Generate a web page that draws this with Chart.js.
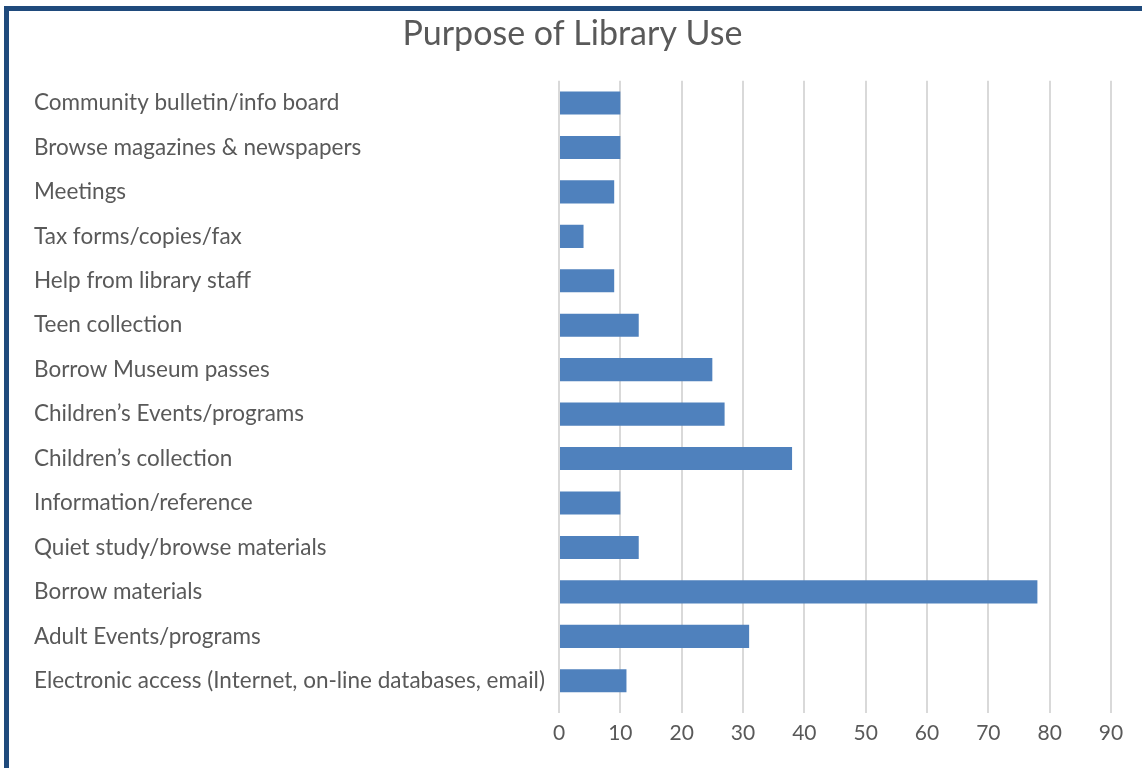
<!DOCTYPE html>
<html>
<head>
<meta charset="utf-8">
<script src="https://cdn.jsdelivr.net/npm/chart.js@4"></script>
<style>
  html, body { margin: 0; padding: 0; background: #fff; }
  #wrap { position: relative; width: 1142px; height: 768px; }
  #myChart { position: absolute; left: 0; top: 0; }
  #frame {
    position: absolute; left: 4px; top: 6px; right: 0; bottom: 0;
    border-top: 5px solid #1f4a7c; border-left: 5px solid #1f4a7c;
    pointer-events: none;
  }
</style>
</head>
<body>
<div id="wrap">
  <canvas id="myChart" width="1142" height="768"></canvas>
  <div id="frame"></div>
</div>
<script>
const purposes = [
  'Community bulletin/info board',
  'Browse magazines & newspapers',
  'Meetings',
  'Tax forms/copies/fax',
  'Help from library staff',
  'Teen collection',
  'Borrow Museum passes',
  'Children\u2019s Events/programs',
  'Children\u2019s collection',
  'Information/reference',
  'Quiet study/browse materials',
  'Borrow materials',
  'Adult Events/programs',
  'Electronic access (Internet, on-line databases, email)'
];
const counts = [10, 10, 9, 4, 9, 13, 25, 27, 38, 10, 13, 78, 31, 11];
const xTicks = [0, 10, 20, 30, 40, 50, 60, 70, 80, 90];

const textColor = '#595959';
const fontFam = 'Lato, "Open Sans", sans-serif';

const data = {
  labels: purposes,
  datasets: [{
    data: counts,
    backgroundColor: '#4f81bd',
    borderWidth: 0,
    barPercentage: 0.52,
    categoryPercentage: 1
  }]
};

const config = {
  type: 'bar',
  data: data,
  options: {
    indexAxis: 'y',
    responsive: false,
    animation: false,
    layout: { padding: { left: 34, right: 31, top: 0, bottom: 0 } },
    plugins: {
      legend: { display: false },
      tooltip: { enabled: false },
      title: {
        display: true,
        text: 'Purpose of Library Use',
        color: textColor,
        font: { family: fontFam, size: 34, weight: 'normal' },
        padding: { top: 14, bottom: 26 }
      }
    },
    scales: {
      x: {
        min: xTicks[0],
        max: xTicks[xTicks.length - 1],
        afterBuildTicks: function(scale) {
          scale.ticks = xTicks.map(v => ({ value: v }));
        },
        afterFit: function(scale) { scale.height = 65; },
        grid: { color: '#d9d9d9', lineWidth: 2, drawTicks: true, tickLength: 10, tickColor: '#d9d9d9' },
        border: { display: false },
        ticks: {
          color: textColor,
          padding: 8,
          font: { family: fontFam, size: 21 }
        }
      },
      y: {
        afterFit: function(scale) { scale.width = 525; },
        grid: { display: false },
        border: { display: false },
        ticks: {
          crossAlign: 'far',
          color: textColor,
          autoSkip: false,
          padding: 0,
          font: { family: fontFam, size: 22.5 }
        }
      }
    }
  }
};

const myChart = new Chart(document.getElementById('myChart'), config);
</script>
</body>
</html>
